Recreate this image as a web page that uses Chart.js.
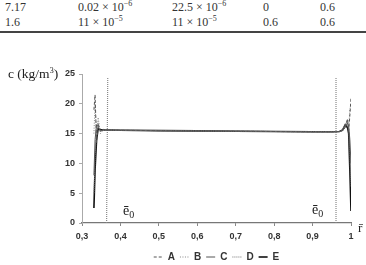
<!DOCTYPE html>
<html>
<head>
<meta charset="utf-8">
<script src="https://cdn.jsdelivr.net/npm/chart.js@4.4.1/dist/chart.umd.min.js"></script>
<style>
  body { margin: 0; background: #fff; }
  #wrap { position: relative; width: 366px; height: 265px; overflow: hidden; }
  #chart { position: absolute; left: 0; top: 0; }
  .t { position: absolute; font-family: "Liberation Serif", serif; font-size: 12px; color: #333; white-space: nowrap; }
  .t sup { font-size: 8px; vertical-align: 5px; line-height: 0; }
  .rule { position: absolute; left: 0; top: 31px; width: 366px; height: 1.5px; background: #444; }
  .lbl { position: absolute; font-family: "Liberation Serif", serif; color: #222; white-space: nowrap; }
  .lbl sub { font-size: 10px; vertical-align: -3px; line-height: 0; }
</style>
</head>
<body>
<div id="wrap">
  <div class="t" style="left:5px;top:0px">7.17</div>
  <div class="t" style="left:78px;top:0px">0.02 × 10<sup>−6</sup></div>
  <div class="t" style="left:172px;top:0px">22.5 × 10<sup>−6</sup></div>
  <div class="t" style="left:263px;top:0px">0</div>
  <div class="t" style="left:320px;top:0px">0.6</div>
  <div class="t" style="left:5px;top:15px">1.6</div>
  <div class="t" style="left:78px;top:15px">11 × 10<sup>−5</sup></div>
  <div class="t" style="left:172px;top:15px">11 × 10<sup>−5</sup></div>
  <div class="t" style="left:263px;top:15px">0.6</div>
  <div class="t" style="left:320px;top:15px">0.6</div>
  <div class="rule"></div>
  <canvas id="chart" width="366" height="265"></canvas>
  <div class="lbl" style="left:8px;top:66px;font-size:13.5px">c (kg/m<sup style="font-size:8px;vertical-align:5px;line-height:0">3</sup>)</div>
  <div class="lbl" style="left:123px;top:203px;font-size:14px">ē<sub>0</sub></div>
  <div class="lbl" style="left:312px;top:202px;font-size:14px">ē<sub>0</sub></div>
  <div class="lbl" style="left:358px;top:220px;font-size:13px">r̄</div>
</div>
<script>
// radial position (shared by all series)
const rValues = [0.331, 0.334, 0.338, 0.342, 0.348, 0.355, 0.37, 0.4, 0.5, 0.6, 0.7, 0.8, 0.9, 0.95, 0.97, 0.978, 0.985, 0.991, 0.994, 0.997, 1.0];

// concentration c (kg/m3)
const seriesA = [19, 21.5, 13.5, 16.5, 15.3, 15.7, 15.6, 15.55, 15.5, 15.45, 15.4, 15.35, 15.3, 15.3, 15.35, 15.6, 16.2, 17.5, 15.5, 18, 21];
const seriesB = [15, 20, 14.5, 17.7, 15.0, 15.6, 15.6, 15.55, 15.5, 15.45, 15.4, 15.35, 15.3, 15.3, 15.35, 15.5, 16.5, 17, 16, 19, 20];
const seriesC = [8, 14, 16.5, 16.2, 15.5, 15.6, 15.6, 15.55, 15.5, 15.45, 15.4, 15.35, 15.3, 15.3, 15.35, 15.5, 16.0, 16.8, 16.2, 14, 10];
const seriesD = [5, 11, 15.5, 16.8, 15.4, 15.6, 15.6, 15.55, 15.5, 15.45, 15.4, 15.35, 15.3, 15.3, 15.35, 15.5, 16.3, 17.2, 15, 11, 6];
const seriesE = [2.5, 9, 14, 15.8, 15.7, 15.6, 15.6, 15.55, 15.5, 15.45, 15.4, 15.35, 15.3, 15.3, 15.35, 15.6, 16.5, 16.0, 15, 9, 2];

// vertical guide lines at e0
const guideLeftR = [0.364, 0.367];
const guideRightR = [0.961, 0.961];
const guideC = [0, 24.5];

const xTicks = [0.3, 0.4, 0.5, 0.6, 0.7, 0.8, 0.9, 1];
const xTickLabels = ['0,3', '0,4', '0,5', '0,6', '0,7', '0,8', '0,9', '1'];
const yTicks = [0, 5, 10, 15, 20, 25];

const toPoints = (xs, ys) => xs.map((x, i) => ({ x: x, y: ys[i] }));

const series = [
  { label: 'A', data: seriesA, color: '#555', dash: [3, 2], width: 1 },
  { label: 'B', data: seriesB, color: '#888', dash: [1, 1.5], width: 1 },
  { label: 'C', data: seriesC, color: '#555', dash: [], width: 1 },
  { label: 'D', data: seriesD, color: '#777', dash: [1, 1], width: 1 },
  { label: 'E', data: seriesE, color: '#111', dash: [], width: 1.6 },
];

const datasets = series.map((s) => ({
  label: s.label,
  data: toPoints(rValues, s.data),
  borderColor: s.color,
  backgroundColor: s.color,
  borderDash: s.dash,
  borderWidth: s.width,
  pointRadius: 0,
  tension: 0,
  fill: false,
}));

[guideLeftR, guideRightR].forEach((g) => {
  datasets.push({
    label: '',
    data: toPoints(g, guideC),
    borderColor: '#888',
    borderDash: [1, 1],
    borderWidth: 1.2,
    pointRadius: 0,
    fill: false,
  });
});

const tickFont = { family: 'Liberation Sans, Arial, sans-serif', size: 9, weight: 'bold' };

new Chart(document.getElementById('chart').getContext('2d'), {
  type: 'line',
  data: { datasets: datasets },
  options: {
    responsive: false,
    animation: false,
    layout: { padding: { left: 0, right: 15, top: 74, bottom: -7 } },
    scales: {
      x: {
        type: 'linear',
        min: 0.3,
        max: 1,
        afterBuildTicks: (scale) => { scale.ticks = xTicks.map((v) => ({ value: v })); },
        afterFit: (scale) => { scale.height = 24; },
        ticks: {
          color: '#333',
          font: tickFont,
          padding: 5,
          maxRotation: 0,
          callback: (v) => xTickLabels[xTicks.indexOf(v)],
        },
        grid: { display: true, drawOnChartArea: false, drawTicks: true, tickLength: 3, color: '#888' },
        border: { display: true, color: '#777', width: 1.2 },
      },
      y: {
        type: 'linear',
        min: 0,
        max: 25,
        afterBuildTicks: (scale) => { scale.ticks = yTicks.map((v) => ({ value: v })); },
        afterFit: (scale) => { scale.width = 82; },
        ticks: { color: '#333', font: tickFont, padding: 4 },
        grid: { display: true, drawOnChartArea: false, drawTicks: true, tickLength: 3, color: '#aaa' },
        border: { display: true, color: '#aaa', dash: [1, 1] },
      },
    },
    plugins: {
      tooltip: { enabled: false },
      legend: {
        position: 'bottom',
        fullSize: false,
        labels: {
          filter: (item) => item.text !== '',
          usePointStyle: true,
          pointStyle: 'line',
          pointStyleWidth: 9,
          padding: 5,
          color: '#333',
          font: { family: 'Liberation Sans, Arial, sans-serif', size: 10, weight: 'bold' },
          generateLabels: (chart) =>
            Chart.defaults.plugins.legend.labels.generateLabels(chart).map((item) => {
              const ds = chart.data.datasets[item.datasetIndex];
              item.lineDash = ds.borderDash;
              item.strokeStyle = ds.borderColor;
              item.lineWidth = ds.borderWidth;
              return item;
            }),
        },
      },
    },
  },
});
</script>
</body>
</html>
